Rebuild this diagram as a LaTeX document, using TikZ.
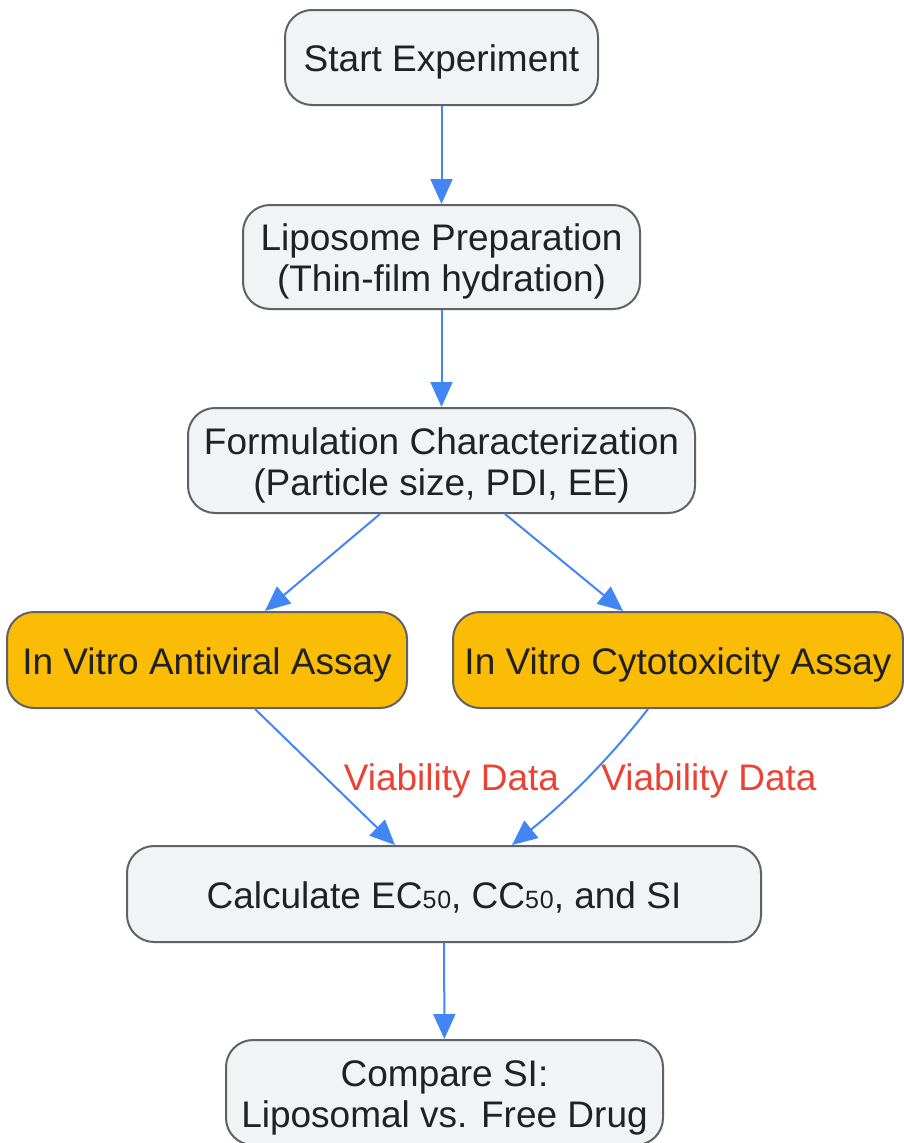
\documentclass[tikz,border=0pt]{standalone}
\usepackage{fontspec}
\setmainfont{Liberation Sans}
\usetikzlibrary{arrows.meta,calc}
\definecolor{boxfill}{HTML}{F1F3F4}
\definecolor{boxline}{HTML}{5F6368}
\definecolor{orangefill}{HTML}{FBBC05}
\definecolor{txt}{HTML}{202124}
\definecolor{arrowblue}{HTML}{4285F4}
\definecolor{lblred}{HTML}{EA4335}
\newcommand{\subfifty}{{\fontsize{25}{25}\selectfont 5\kern0.8pt0}}
\newcommand{\btext}[1]{\raisebox{-6pt}[\height][\depth]{\begin{tabular}{@{}c@{}}#1\end{tabular}}}
\tikzset{
  box/.style={draw=boxline, line width=2pt, fill=boxfill, rounded corners=27pt,
    inner sep=0pt, text=txt, font=\fontsize{37}{41}\selectfont},
  orangebox/.style={box, fill=orangefill},
  arr/.style={draw=arrowblue, line width=2pt, -{Triangle[length=25pt,width=22pt]}},
  lbl/.style={text=lblred, inner sep=0pt, font=\fontsize{37}{41}\selectfont}
}
\begin{document}
\begin{tikzpicture}[x=1pt,y=-1pt]
\useasboundingbox (0,0) rectangle (903,1143);
\node[box, minimum width=313pt, minimum height=95pt] (n1) at (441.5,57.5) {\btext{Start Experiment}};
\node[box, minimum width=397pt, minimum height=104pt] (n2) at (441.5,257) {\btext{Liposome Preparation\\(Thin-film hydration)}};
\node[box, minimum width=507pt, minimum height=105pt] (n3) at (441.5,460.5) {\btext{Formulation Characterization\\(Particle size, PDI, EE)}};
\node[orangebox, minimum width=400pt, minimum height=96pt] (n4) at (207,660) {\btext{In Vitro Antiviral Assay}};
\node[orangebox, minimum width=450pt, minimum height=96pt] (n5) at (678,660) {\btext{In Vitro Cytotoxicity Assay}};
\node[box, minimum width=634pt, minimum height=96pt] (n6) at (444,894) {\btext{Calculate EC\subfifty, CC\subfifty, and SI}};
\node[box, minimum width=437pt, minimum height=105pt] (n7) at (444.5,1092.5) {\btext{Compare SI:\\Liposomal vs. Free Drug}};
\node[lbl] (l1) at (451.5,781) {Viability Data};
\node[lbl] (l2) at (709,781) {Viability Data};
\draw[arr] (n1) -- (n2);
\draw[arr] (n2) -- (n3);
\draw[arr] ($(n3.south)+(-61.5,0)$) -- ($(n4.north)+(58,0)$);
\draw[arr] ($(n3.south)+(63.5,0)$) -- ($(n5.north)+(-55,0)$);
\draw[arr] ($(n4.south)+(48,0)$) -- ($(n6.north)+(-49,0)$);
\draw[arr] ($(n5.south)+(-30,0)$) .. controls (620,745) and (580,790) .. ($(n6.north)+(68,0)$);
\draw[arr] (n6) -- (n7);
\end{tikzpicture}
\end{document}
